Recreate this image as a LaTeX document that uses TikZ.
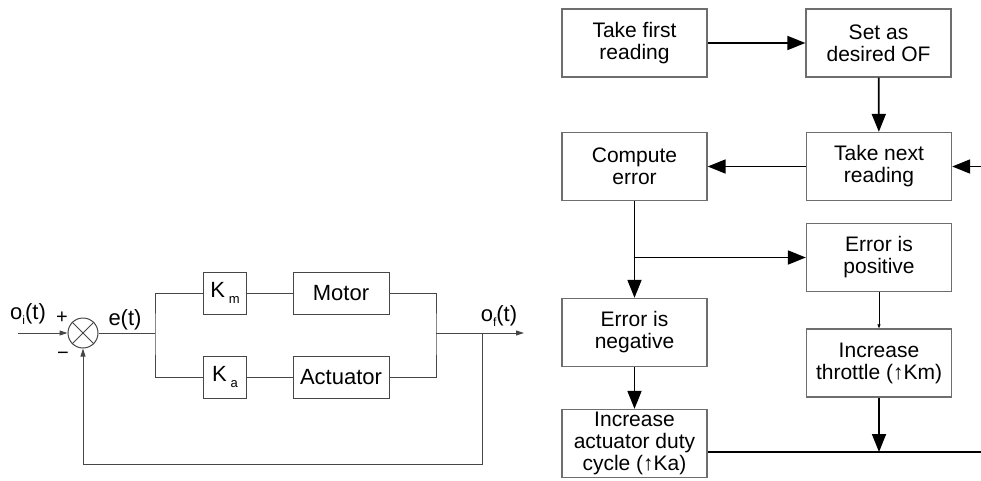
\documentclass[tikz,border=0pt]{standalone}
\usepackage{fontspec}
\setmainfont{Liberation Sans}
\usetikzlibrary{arrows.meta}
\definecolor{linegray}{RGB}{70,70,70}
\definecolor{boxgray}{RGB}{110,110,110}
\begin{document}
\begin{tikzpicture}[x=1pt,y=-1pt,
  blk/.style={draw=linegray,line width=1pt,minimum height=42pt,inner sep=0pt,font=\fontsize{22}{24}\selectfont},
  sig/.style={draw=linegray,line width=1pt},
  sigarr/.style={sig,-{Triangle[length=8pt,width=5pt]}},
  lbl/.style={inner sep=0pt,font=\fontsize{22}{24}\selectfont},
  fbox/.style={draw=boxgray,line width=1.3pt,minimum width=145pt,minimum height=68pt,
    align=center,inner sep=0pt,font=\fontsize{21}{22}\selectfont},
  farr/.style={line width=1.8pt,-{Triangle[length=18pt,width=14pt]}},
  fline/.style={line width=1.8pt},
  tarr/.style={line width=0.6pt,-{Triangle[length=4pt,width=3pt]}}]
\useasboundingbox (0,0) rectangle (981,481);
% block diagram
\node[circle,draw=linegray,line width=1pt,minimum size=30pt,inner sep=0pt] (sum) at (83,333) {};
\draw[sig] (sum.north west) -- (sum.south east);
\draw[sig] (sum.north east) -- (sum.south west);
\node[blk,minimum width=43pt] (km) at (225,293) {K\,\raisebox{-.45ex}{\fontsize{13}{13}\selectfont m}};
\node[blk,minimum width=43pt] (ka) at (225,377) {K\,\raisebox{-.45ex}{\fontsize{13}{13}\selectfont a}};
\node[blk,minimum width=96pt] (motor) at (341,293) {Motor};
\node[blk,minimum width=96pt] (act) at (341,377) {Actuator};
\coordinate (in) at (18,333);
\coordinate (j1) at (155,333);
\coordinate (j2) at (436,333);
\coordinate (fb) at (482,333);
\coordinate (out) at (524,333);
\node[lbl] (oi) at (28,314) {o\raisebox{-.5ex}{\fontsize{12}{12}\selectfont i}(t)};
\node[lbl,font=\fontsize{20}{20}\selectfont] (plus) at (62,318) {+};
\node[lbl,font=\fontsize{20}{20}\selectfont] (minus) at (63,356) {−};
\node[lbl] (et) at (125,320) {e(t)};
\node[lbl] (of) at (499,316) {o\raisebox{-.5ex}{\fontsize{12}{12}\selectfont f}(t)};
\draw[sigarr] (in) -- (sum.west);
\draw[sig] (sum.east) -- (j1);
\draw[sig] (km.west) -| (j1) |- (ka.west);
\draw[sig] (km) -- (motor);
\draw[sig] (ka) -- (act);
\draw[sig] (motor.east) -| (j2) |- (act.east);
\draw[sigarr] (j2) -- (out);
\draw[sigarr] (fb) -- ++(0,131) -| (sum.south);
% flow chart
\node[fbox] (first) at (634.5,43) {Take first\\reading};
\node[fbox] (setof) at (878.5,43) {Set as\\desired OF};
\node[fbox] (next) at (879,166.5) {Take next\\reading};
\node[fbox] (comp) at (634.5,166.5) {Compute\\error};
\node[fbox] (pos) at (879,257.5) {Error is\\positive};
\node[fbox] (neg) at (634.5,332.5) {Error is\\negative};
\node[fbox] (thr) at (879,363) {Increase\\throttle (↑Km)};
\node[fbox] (incact) at (634.5,443.5) {Increase\\actuator duty\\cycle (↑Ka)};
\coordinate (back) at (981,166.5);
\coordinate (br) at (comp.south |- pos);
\coordinate (mrg) at (879,452);
\coordinate (edge) at (981,452);
\draw[farr] (first) -- (setof);
\draw[farr] (setof) -- (next);
\draw[farr] (next) -- (comp);
\draw[farr] (back) -- (next.east);
\draw[farr] (comp) -- (neg);
\draw[farr] (br) -- (pos.west);
\draw[tarr] (pos) -- (thr);
\draw[farr] (neg) -- (incact);
\draw[farr] (thr) -- (mrg);
\draw[fline] (incact.east |- mrg) -- (edge);
\end{tikzpicture}
\end{document}
